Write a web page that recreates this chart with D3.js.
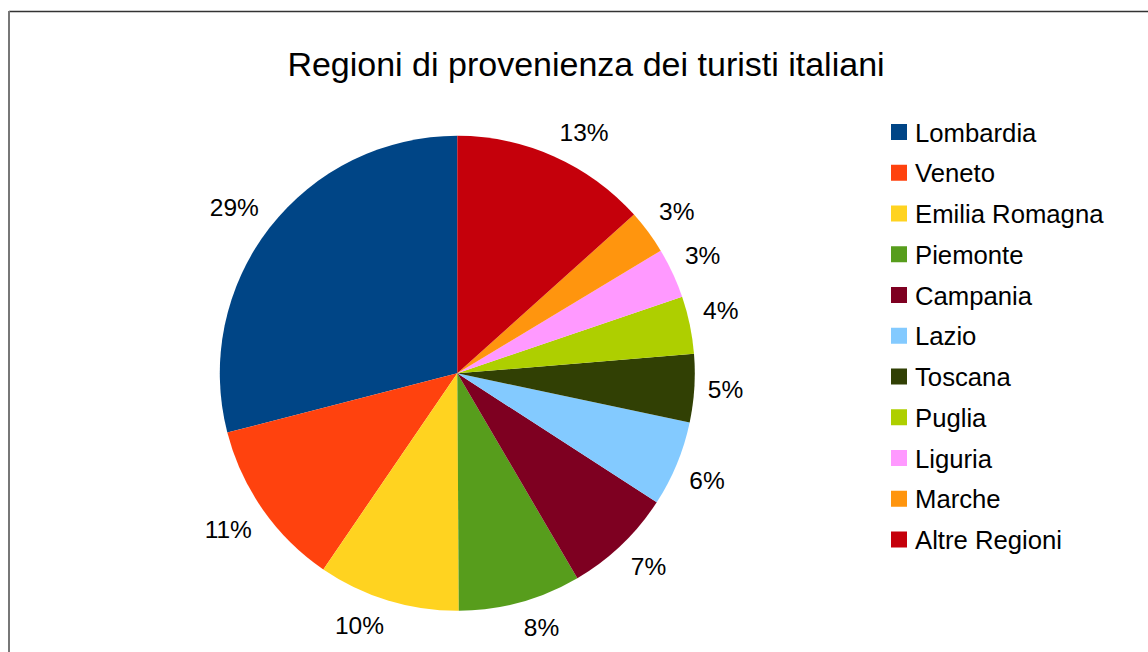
<!DOCTYPE html>
<html>
<head>
<meta charset="utf-8">
<script src="https://cdn.jsdelivr.net/npm/d3@7"></script>
<style>
  html, body { margin: 0; padding: 0; background: #fff; }
  svg { display: block; font-family: "Liberation Sans", Arial, sans-serif; }
</style>
</head>
<body>
<svg id="chart" width="1148" height="652"></svg>
<script>
// Regions of origin of Italian tourists (share, %)
const regions = ["Lombardia", "Veneto", "Emilia Romagna", "Piemonte", "Campania",
                 "Lazio", "Toscana", "Puglia", "Liguria", "Marche", "Altre Regioni"];
const shares  = [28.9, 11.4, 9.6, 8.3, 7.4, 5.8, 4.6, 3.9, 3.4, 3.0, 13.3];
const colors  = ["#004586", "#ff420e", "#ffd320", "#579d1c", "#7e0021",
                 "#83caff", "#314004", "#aecf00", "#ff99ff", "#ff950e", "#c5000b"];
const title = "Regioni di provenienza dei turisti italiani";

const svg = d3.select("#chart");
const W = 1148, H = 652;

// frame
svg.append("line").attr("x1", 9).attr("x2", W).attr("y1", 11.5).attr("y2", 11.5)
   .attr("stroke", "#333").attr("stroke-width", 1.5);
svg.append("line").attr("x1", 9).attr("x2", 9).attr("y1", 11).attr("y2", H)
   .attr("stroke", "#777").attr("stroke-width", 2);

// title
svg.append("text")
   .attr("x", 586).attr("y", 75.5)
   .attr("text-anchor", "middle")
   .attr("font-size", 34)
   .attr("fill", "#000")
   .text(title);

// pie (slices run counter-clockwise from 12 o'clock)
const cx = 457.3, cy = 373.3, R = 237.5, anchorR = 251;
const total = d3.sum(shares);
const color = d3.scaleOrdinal().domain(regions).range(colors);

const pie = d3.pie()
  .value(d => d.value)
  .sort(null)
  .startAngle(0)
  .endAngle(-2 * Math.PI);

const data = regions.map((r, i) => ({ region: r, value: shares[i] }));
const arcs = pie(data);
const arc = d3.arc().innerRadius(0).outerRadius(R);

const g = svg.append("g").attr("transform", `translate(${cx},${cy})`);

g.selectAll("path.slice")
  .data(arcs)
  .join("path")
  .attr("class", "slice")
  .attr("d", arc)
  .attr("fill", d => color(d.data.region));

const pct = v => Math.round(v / total * 100) + "%";

// labels: anchor point just outside the rim, box pushed away from the pie
const labels = g.selectAll("text.lbl")
  .data(arcs)
  .join("text")
  .attr("class", "lbl")
  .attr("text-anchor", "middle")
  .attr("dominant-baseline", "central")
  .attr("font-size", 24.5)
  .attr("fill", "#000")
  .text(d => pct(d.data.value));

labels.each(function(d) {
  const a = (d.startAngle + d.endAngle) / 2;
  const s = Math.sin(a), c = Math.cos(a);
  const bb = this.getBBox();
  const hw = bb.width / 2, hh = 12;
  const dx = Math.abs(s) > 0.1 ? Math.sign(s) * hw : 0;
  const dy = Math.abs(c) > 0.2 ? -Math.sign(c) * hh : 0;
  d3.select(this)
    .attr("x", anchorR * s + dx)
    .attr("y", -anchorR * c + dy);
});

// legend
const legend = svg.append("g").attr("transform", "translate(891,124)");
const rowH = 40.75;
const item = legend.selectAll("g.item")
  .data(regions)
  .join("g")
  .attr("class", "item")
  .attr("transform", (d, i) => `translate(0,${i * rowH})`);

item.append("rect")
  .attr("width", 16).attr("height", 16)
  .attr("fill", d => color(d));

item.append("text")
  .attr("x", 24).attr("y", 17.5)
  .attr("font-size", 25.7)
  .attr("fill", "#000")
  .text(d => d);
</script>
</body>
</html>
